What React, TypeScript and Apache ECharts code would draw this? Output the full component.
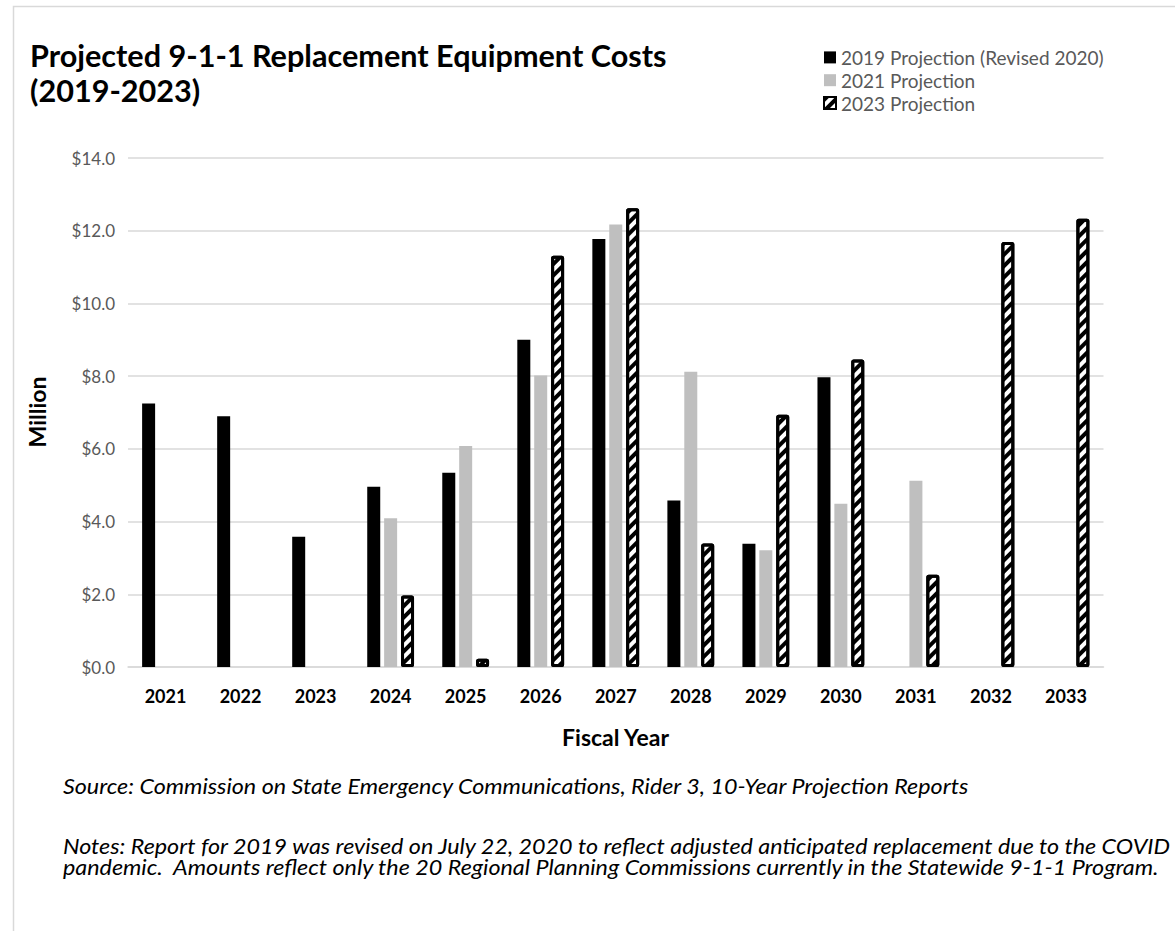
import React, { useEffect, useRef } from "react";
import * as echarts from "echarts";

const years = ["2021", "2022", "2023", "2024", "2025", "2026", "2027", "2028", "2029", "2030", "2031", "2032", "2033"];
const proj2019 = [7.25, 6.9, 3.58, 4.96, 5.34, 9.0, 11.77, 4.58, 3.39, 7.97, null, null, null];
const proj2021 = [null, null, null, 4.09, 6.08, 8.02, 12.17, 8.12, 3.21, 4.49, 5.12, null, null];
const proj2023 = [null, null, null, 1.97, 0.23, 11.31, 12.62, 3.4, 6.94, 8.46, 2.54, 11.69, 12.33];
const seriesNames = ["2019 Projection (Revised 2020)", "2021 Projection", "2023 Projection"];
const titleLines = ["Projected 9-1-1 Replacement Equipment Costs", "(2019-2023)"];
const sourceText = "Source: Commission on State Emergency Communications, Rider 3, 10-Year Projection Reports";
const notesLines = [
  "Notes: Report for 2019 was revised on July 22, 2020 to reflect adjusted anticipated replacement due to the COVID",
  "pandemic.  Amounts reflect only the 20 Regional Planning Commissions currently in the Statewide 9-1-1 Program.",
];

const FONT = "Lato, 'Open Sans', sans-serif";

export default function App() {
  const ref = useRef<HTMLDivElement>(null);
  useEffect(() => {
    document.body.style.margin = "0";
    const chart = echarts.init(ref.current!, null, { renderer: "svg" });
    const barW = 13;
    chart.setOption({
      animation: false,
      backgroundColor: "#ffffff",
      textStyle: { fontFamily: FONT },
      legend: {
        orient: "vertical",
        left: 818,
        top: 41,
        itemGap: 0,
        itemWidth: 12,
        itemHeight: 12,
        icon: "rect",
        textStyle: { fontSize: 19, lineHeight: 22.8, color: "#595959", fontFamily: FONT },
        data: seriesNames,
      },
      grid: { left: 128, right: 71.5, top: 158, bottom: 264, containLabel: false },
      xAxis: {
        type: "category",
        data: years,
        axisTick: { show: false },
        axisLine: { lineStyle: { color: "#d9d9d9", width: 1.5 } },
        axisLabel: { fontSize: 18, fontWeight: "bold", color: "#000000", margin: 20, fontFamily: FONT },
      },
      yAxis: {
        type: "value",
        min: 0,
        max: 14,
        interval: 2,
        axisLine: { show: false },
        axisTick: { show: false },
        splitLine: { lineStyle: { color: "#d9d9d9", width: 1.5 } },
        axisLabel: {
          fontSize: 17,
          color: "#595959",
          margin: 13,
          fontFamily: FONT,
          formatter: (v: number) => "$" + v.toFixed(1),
        },
      },
      series: [
        {
          name: seriesNames[0],
          type: "bar",
          data: proj2019,
          barWidth: barW,
          barGap: "30%",
          itemStyle: { color: "#000000" },
        },
        {
          name: seriesNames[1],
          type: "bar",
          data: proj2021,
          barWidth: barW,
          barGap: "30%",
          itemStyle: { color: "#bfbfbf" },
        },
        {
          name: seriesNames[2],
          type: "bar",
          data: proj2023,
          barWidth: barW,
          barGap: "30%",
          itemStyle: {
            color: "#ffffff",
            borderColor: "#000000",
            borderWidth: 3,
            borderRadius: 1,
            decal: {
              symbol: "rect",
              symbolSize: 1,
              color: "#000000",
              backgroundColor: "#ffffff",
              dashArrayX: [1, 0],
              dashArrayY: [3.5, 3.5],
              rotation: -Math.PI / 4,
            },
          },
        },
      ],
      graphic: [
        {
          type: "rect",
          silent: true,
          shape: { x: 13.5, y: 6.5, width: 1200, height: 1000 },
          style: { fill: "none", stroke: "#d9d9d9", lineWidth: 1.5 },
        },
        {
          type: "text",
          x: 30,
          y: 38,
          style: {
            text: titleLines.join("\n"),
            fontSize: 30.6,
            fontWeight: "bold",
            fill: "#000000",
            fontFamily: FONT,
            lineHeight: 35,
            verticalAlign: "top",
          },
        },
        {
          type: "text",
          x: 37,
          y: 412,
          rotation: Math.PI / 2,
          style: {
            text: "Million",
            fontSize: 23,
            fontWeight: "bold",
            fill: "#000000",
            fontFamily: FONT,
            align: "center",
            verticalAlign: "middle",
          },
        },
        {
          type: "text",
          x: 615.5,
          y: 737,
          style: {
            text: "Fiscal Year",
            fontSize: 23,
            fontWeight: "bold",
            fill: "#000000",
            fontFamily: FONT,
            align: "center",
            verticalAlign: "middle",
          },
        },
        {
          type: "text",
          x: 63,
          y: 786,
          scaleX: 1.11,
          style: {
            text: sourceText,
            fontSize: 21,
            fontStyle: "italic",
            fill: "#000000",
            fontFamily: FONT,
            verticalAlign: "middle",
          },
        },
        {
          type: "text",
          x: 63,
          y: 846,
          scaleX: 1.11,
          style: {
            text: notesLines[0],
            fontSize: 21,
            fontStyle: "italic",
            fill: "#000000",
            fontFamily: FONT,
            verticalAlign: "middle",
          },
        },
        {
          type: "text",
          x: 63,
          y: 867,
          scaleX: 1.11,
          style: {
            text: notesLines[1],
            fontSize: 21,
            fontStyle: "italic",
            fill: "#000000",
            fontFamily: FONT,
            verticalAlign: "middle",
          },
        },
      ],
    });
    return () => chart.dispose();
  }, []);
  return <div ref={ref} style={{ width: 1175, height: 931 }} />;
}
